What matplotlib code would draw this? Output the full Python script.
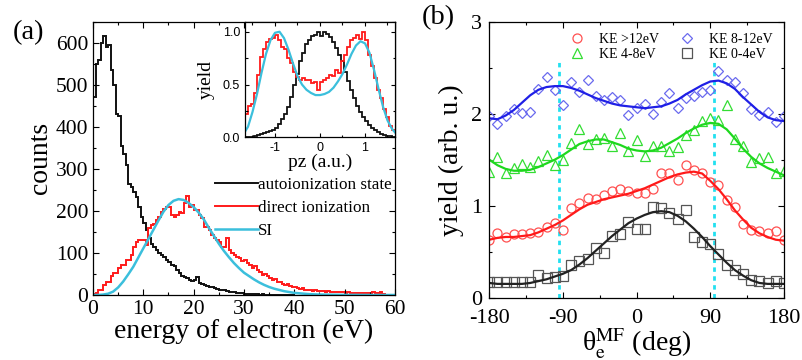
import numpy as np
import matplotlib
matplotlib.use("Agg")
import matplotlib.pyplot as plt
from matplotlib.ticker import MultipleLocator

plt.rcParams['font.family'] = ['Liberation Serif', 'DejaVu Serif']
plt.rcParams['mathtext.fontset'] = 'stix'
plt.rcParams['axes.unicode_minus'] = False

# ---------------- panel (a): electron energy spectra (0.5 eV bins) ----------------
e_bin = 0.5
auto_counts = [470, 550, 560, 600, 615, 590, 595, 535, 500, 430,
               425, 355, 335, 310, 265, 258, 245, 232, 210, 185,
               172, 155, 135, 122, 115, 107, 100, 96, 90, 83,
               78, 72, 68, 60, 52, 45, 42, 40, 36, 33,
               36, 42, 28, 26, 24, 22, 20, 20, 16, 14,
               13, 12, 11, 9, 8, 7, 6, 5, 5, 4,
               3, 3, 2, 3, 2, 2, 1, 2, 1, 1,
               1, 1, 0, 0, 0, 0, 0, 0, 0, 0]
direct_counts = [3, 5, 12, 12, 24, 32, 32, 44, 52, 52,
                 63, 71, 71, 83, 83, 95, 115, 127, 131, 131,
                 131, 119, 159, 166, 170, 178, 185, 198, 204, 209,
                 209, 190, 186, 190, 198, 196, 218, 235, 210, 214,
                 202, 202, 190, 182, 162, 162, 155, 143, 135, 130,
                 127, 115, 115, 135, 107, 100, 95, 90, 87, 80,
                 83, 75, 72, 64, 68, 60, 55, 48, 50, 44,
                 40, 36, 38, 32, 30, 27, 24, 25, 22, 20,
                 20, 17, 15, 16, 13, 12, 13, 10, 11, 10,
                 9, 10, 8, 9, 8, 7, 8, 6, 7, 6,
                 5, 6, 5, 5, 4, 5, 4, 5, 4, 4,
                 5, 7, 4, 4, 6, 3, 0, 0, 0, 0]
si_energy = [0, 1, 2, 3, 4, 5, 6, 7, 8, 9, 10, 11, 12, 13, 14, 15, 16, 17, 18, 19,
             20, 21, 22, 23, 24, 25, 26, 27, 28, 29, 30, 31, 32, 33, 34, 35, 36, 37,
             38, 39, 40, 41, 42, 43, 44, 45, 50, 55, 60]
si_counts = [0, 0, 1, 3, 8, 18, 32, 49, 67, 89, 111, 133, 155, 177, 198, 214, 224, 228,
             226, 219, 209, 196, 180, 160, 141, 122, 105, 90, 76, 64, 53, 45, 37, 30,
             24, 19, 15, 12, 9, 7, 5, 4, 3, 2, 1.5, 1, 0.3, 0, 0]

# inset: pz distributions
pz_auto = [0.0, 0.0, 0.005, 0.01, 0.02, 0.03, 0.04, 0.05, 0.06, 0.07,
           0.09, 0.13, 0.17, 0.22, 0.29, 0.38, 0.50, 0.60, 0.72, 0.80,
           0.88, 0.92, 0.96, 0.97, 1.00, 0.96, 1.00, 0.98, 0.95, 0.90,
           0.85, 0.78, 0.72, 0.62, 0.53, 0.45, 0.37, 0.30, 0.24, 0.19,
           0.15, 0.12, 0.09, 0.07, 0.05, 0.03, 0.02, 0.01, 0.01, 0.0]
pz_direct = [0.22, 0.30, 0.32, 0.42, 0.59, 0.76, 0.84, 0.90, 0.93, 0.94,
             0.97, 0.92, 0.86, 0.84, 0.75, 0.70, 0.62, 0.57, 0.54, 0.56,
             0.54, 0.54, 0.51, 0.52, 0.45, 0.52, 0.54, 0.56, 0.59, 0.58,
             0.64, 0.61, 0.72, 0.78, 0.86, 0.92, 0.94, 0.97, 0.93, 1.00,
             0.92, 0.78, 0.68, 0.56, 0.45, 0.37, 0.27, 0.19, 0.11, 0.07]
pz_si_x = [-1.7, -1.6, -1.5, -1.4, -1.3, -1.2, -1.1, -1.0, -0.9, -0.8, -0.7, -0.6,
           -0.5, -0.4, -0.3, -0.2, -0.1, 0.0, 0.1, 0.2, 0.3, 0.4, 0.5, 0.6, 0.7,
           0.8, 0.9, 1.0, 1.1, 1.2, 1.3, 1.4, 1.5, 1.6, 1.7]
pz_si = [0.03, 0.10, 0.24, 0.41, 0.61, 0.79, 0.92, 0.99, 1.00, 0.94, 0.83, 0.70,
         0.58, 0.50, 0.45, 0.42, 0.40, 0.40, 0.41, 0.43, 0.47, 0.53, 0.60, 0.69,
         0.79, 0.87, 0.91, 0.89, 0.80, 0.64, 0.46, 0.29, 0.16, 0.08, 0.03]

# ---------------- panel (b): angular distributions ----------------
theta = [-180, -170, -160, -150, -140, -130, -120, -110, -100, -90, -80, -70, -60,
         -50, -40, -30, -20, -10, 0, 10, 20, 30, 40, 50, 60, 70, 80, 90, 100, 110,
         120, 130, 140, 150, 160, 170, 180]
ke_hi = [0.63, 0.70, 0.66, 0.69, 0.69, 0.70, 0.71, 0.77, 0.81, 0.74, 0.97, 1.03, 1.08,
         1.07, 1.12, 1.16, 1.18, 1.16, 1.14, 1.14, 1.18, 1.36, 1.35, 1.28, 1.44, 1.39,
         1.36, 1.26, 1.22, 1.06, 0.99, 0.80, 0.74, 0.72, 0.70, 0.72, 0.63]
ke_4_8 = [1.37, 1.53, 1.35, 1.41, 1.45, 1.42, 1.49, 1.55, 1.44, 1.50, 1.68, 1.83, 1.67,
          1.73, 1.74, 1.65, 1.79, 1.59, 1.71, 1.54, 1.65, 1.65, 1.59, 1.64, 1.77, 1.82,
          1.92, 1.95, 1.93, 2.09, 1.73, 1.65, 1.48, 1.52, 1.53, 1.36, 1.38]
ke_8_12 = [1.97, 1.89, 1.98, 2.05, 2.01, 2.02, 2.27, 2.40, 2.26, 2.10, 2.35, 2.24, 2.37,
           2.19, 2.15, 2.18, 2.15, 1.99, 2.06, 2.11, 2.00, 2.13, 2.23, 2.06, 2.17, 2.19,
           2.24, 2.26, 2.46, 2.37, 2.35, 2.22, 2.05, 1.99, 2.02, 1.91, 1.97]
ke_0_4 = [0.17, 0.17, 0.17, 0.17, 0.17, 0.17, 0.25, 0.21, 0.23, 0.24, 0.36, 0.40, 0.42,
          0.54, 0.49, 0.67, 0.69, 0.82, 0.75, 0.75, 0.99, 0.98, 0.92, 0.85, 0.95, 0.66,
          0.61, 0.58, 0.48, 0.35, 0.30, 0.26, 0.19, 0.18, 0.16, 0.18, 0.16]
fit_hi = [0.63, 0.65, 0.66, 0.66, 0.67, 0.68, 0.71, 0.75, 0.79, 0.84, 0.90, 0.96, 1.01,
          1.04, 1.07, 1.09, 1.11, 1.13, 1.16, 1.19, 1.23, 1.27, 1.31, 1.34, 1.36, 1.37,
          1.35, 1.27, 1.18, 1.07, 0.95, 0.85, 0.76, 0.70, 0.66, 0.63, 0.62]
fit_4_8 = [1.50, 1.44, 1.40, 1.38, 1.38, 1.39, 1.42, 1.46, 1.50, 1.55, 1.61, 1.67, 1.70,
           1.72, 1.72, 1.69, 1.66, 1.62, 1.60, 1.59, 1.60, 1.63, 1.68, 1.73, 1.79, 1.84,
           1.88, 1.90, 1.89, 1.83, 1.73, 1.62, 1.53, 1.46, 1.41, 1.37, 1.33]
fit_8_12 = [1.95, 1.94, 1.98, 2.04, 2.12, 2.20, 2.26, 2.29, 2.30, 2.30, 2.28, 2.25, 2.21,
            2.17, 2.14, 2.11, 2.09, 2.08, 2.07, 2.06, 2.07, 2.08, 2.11, 2.15, 2.21, 2.26,
            2.31, 2.35, 2.36, 2.33, 2.27, 2.18, 2.10, 2.02, 1.96, 1.93, 1.92]
fit_0_4 = [0.16, 0.15, 0.15, 0.15, 0.15, 0.16, 0.18, 0.20, 0.23, 0.26, 0.30, 0.36, 0.43,
           0.51, 0.59, 0.67, 0.74, 0.81, 0.86, 0.90, 0.93, 0.94, 0.93, 0.89, 0.83, 0.75,
           0.66, 0.56, 0.47, 0.38, 0.30, 0.24, 0.19, 0.16, 0.15, 0.15, 0.15]
dashed_theta = [-95, 94]
dashed_top = 2.58


def style_ticks(ax, size):
    ax.tick_params(which='both', direction='in', top=True, right=True, labelsize=size)
    ax.tick_params(which='major', length=4, width=0.8)
    ax.tick_params(which='minor', length=2.5, width=0.8)
    for s in ax.spines.values():
        s.set_linewidth(0.9)


fig = plt.figure(figsize=(8.03, 3.6), dpi=100)

# ----- (a)
ax1 = fig.add_axes([0.1158, 0.1806, 0.3761, 0.7591])
edges = np.arange(len(auto_counts) + 1) * e_bin
ax1.stairs(auto_counts, edges, color='#111111', lw=1.4, label='autoionization state')
edges = np.arange(len(direct_counts) + 1) * e_bin
ax1.stairs(direct_counts, edges, color='#ff1a1a', lw=1.4, label='direct ionization')
ax1.plot(si_energy, si_counts, color='#3bbfdc', lw=1.8, label='SI')
ax1.set_xlim(0, 60)
ax1.set_ylim(0, 650)
ax1.xaxis.set_major_locator(MultipleLocator(10))
ax1.xaxis.set_minor_locator(MultipleLocator(5))
ax1.yaxis.set_major_locator(MultipleLocator(100))
ax1.yaxis.set_minor_locator(MultipleLocator(50))
style_ticks(ax1, 15.5)
ax1.set_xlabel('energy of electron (eV)', fontsize=20, labelpad=0)
ax1.set_ylabel('counts', fontsize=20, labelpad=2)
ax1.legend(loc='center left', bbox_to_anchor=(0.405, 0.318), frameon=False,
           fontsize=12.3, handlelength=2.5, handletextpad=0.0, labelspacing=0.42,
           borderpad=0, borderaxespad=0)
fig.text(0.016, 0.91, '(a)', fontsize=20.5, va='center')

# ----- inset
axi = fig.add_axes([0.3051, 0.6186, 0.1868, 0.3211])
edges = np.linspace(-5 / 3, 5 / 3, len(pz_auto) + 1)
axi.stairs(pz_auto, edges, color='#111111', lw=1.3, baseline=None)
edges = np.linspace(-5 / 3, 5 / 3, len(pz_direct) + 1)
axi.stairs(pz_direct, edges, color='#ff1a1a', lw=1.3, baseline=None)
axi.plot(pz_si_x, pz_si, color='#3bbfdc', lw=1.6)
axi.set_xlim(-5 / 3, 5 / 3)
axi.set_ylim(0, 1.095)
axi.xaxis.set_major_locator(MultipleLocator(1))
axi.xaxis.set_minor_locator(MultipleLocator(0.5))
axi.yaxis.set_major_locator(MultipleLocator(0.5))
axi.yaxis.set_minor_locator(MultipleLocator(0.25))
style_ticks(axi, 9)
axi.tick_params(which='major', length=3)
axi.tick_params(which='minor', length=1.8)
axi.yaxis.set_major_formatter(matplotlib.ticker.FormatStrFormatter('%.1f'))
for lab in axi.get_xticklabels() + axi.get_yticklabels():
    lab.set_family('Liberation Sans')
axi.set_xlabel('pz (a.u.)', fontsize=14, labelpad=0)
axi.set_ylabel('yield', fontsize=14, labelpad=6)

# ----- (b)
ax2 = fig.add_axes([0.6093, 0.1731, 0.367, 0.7666])
for xd in dashed_theta:
    ax2.axvline(xd, ymin=0, ymax=dashed_top / 3, color='#22e0f0', lw=2.0,
                linestyle=(0, (1.6, 1.6)), zorder=1)
mk = dict(linestyle='none', mfc='none', markersize=6.5, mew=0.9)
ax2.plot(theta, ke_hi, marker='o', color='#ff5050', label='KE >12eV', **mk)
ax2.plot(theta, ke_4_8, marker='^', color='#33dd33', label='KE 4-8eV', **mk)
ax2.plot(theta, ke_8_12, marker='D', color='#6a6aee', label='KE 8-12eV',
         linestyle='none', mfc='none', markersize=5.5, mew=0.9)
ax2.plot(theta, ke_0_4, marker='s', color='#555555', label='KE 0-4eV', **mk)
ax2.plot(theta, fit_hi, color='#ff1a1a', lw=1.6)
ax2.plot(theta, fit_4_8, color='#1ed81e', lw=1.6)
ax2.plot(theta, fit_8_12, color='#1f1fe6', lw=1.6)
ax2.plot(theta, fit_0_4, color='#222222', lw=1.6)
ax2.set_xlim(-180, 180)
ax2.set_ylim(0, 3)
ax2.xaxis.set_major_locator(MultipleLocator(90))
ax2.xaxis.set_minor_locator(MultipleLocator(45))
ax2.yaxis.set_major_locator(MultipleLocator(1))
ax2.yaxis.set_minor_locator(MultipleLocator(0.5))
style_ticks(ax2, 16)
ax2.tick_params(axis='x', which='major', pad=8.5)
ax2.tick_params(axis='y', which='major', pad=5)
ax2.set_xlabel(r'θ$_{\mathrm{e}}^{\mathrm{MF}}$ (deg)', fontsize=20, labelpad=-1)
ax2.set_ylabel('yield (arb. u.)', fontsize=20, labelpad=5)
ax2.legend(loc='upper right', bbox_to_anchor=(1.0, 1.0), frameon=False, ncol=2,
           fontsize=10, handlelength=1.2, handletextpad=1.0, columnspacing=1.4,
           labelspacing=0.15, borderpad=0.3)
fig.text(0.525, 0.95, '(b)', fontsize=20.5, va='center')

fig.savefig('out.png', dpi=100)
